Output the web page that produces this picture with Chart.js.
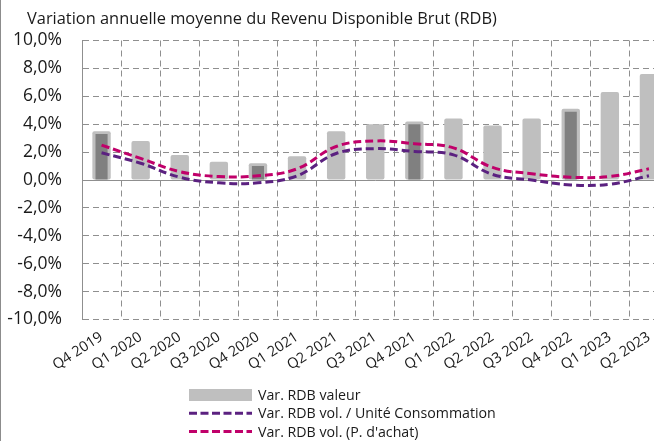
<!DOCTYPE html>
<html lang="fr">
<head>
<meta charset="utf-8">
<title>Variation annuelle moyenne du RDB</title>
<script src="https://cdn.jsdelivr.net/npm/chart.js@4/dist/chart.umd.min.js"></script>
<style>
  html, body { margin: 0; padding: 0; background: #fff; overflow: hidden; }
  #wrap { position: relative; width: 669px; height: 441px; border-left: 1px solid #8c8c8c; }
</style>
</head>
<body>
<div id="wrap"><canvas id="rdbChart"></canvas></div>
<script>
const quarters = ["Q4 2019", "Q1 2020", "Q2 2020", "Q3 2020", "Q4 2020", "Q1 2021", "Q2 2021", "Q3 2021",
                  "Q4 2021", "Q1 2022", "Q2 2022", "Q3 2022", "Q4 2022", "Q1 2023", "Q2 2023"];
// Var. RDB valeur (light bars)
const rdbValeur = [3.5, 2.8, 1.8, 1.3, 1.2, 1.7, 3.5, 4.0, 4.2, 4.4, 3.9, 4.4, 5.1, 6.3, 7.6];
// annual value shown as a darker bar on Q4 only
const rdbValeurAnnuel = [3.3, null, null, null, 1.0, null, null, null, 4.0, null, null, null, 4.9, null, null];
const rdbVolUC = [1.95, 1.2, 0.2, -0.2, -0.2, 0.3, 1.9, 2.25, 2.05, 1.8, 0.4, 0.0, -0.35, -0.3, 0.3];
const rdbVolPA = [2.5, 1.55, 0.6, 0.25, 0.3, 0.8, 2.4, 2.8, 2.6, 2.3, 0.9, 0.45, 0.2, 0.25, 0.8];
const yTickValues = [-10, -8, -6, -4, -2, 0, 2, 4, 6, 8, 10];

const TITLE = "Variation annuelle moyenne du Revenu Disponible Brut (RDB)";
const FONT = "'Open Sans', sans-serif";
const TEXT = "#1a1a1a";
const GRID = "#8f8f8f";

// title at the top left and the legend stacked in one column under the axis labels
const titleAndLegend = {
    id: "titleAndLegend",
    afterDraw(chart, args, opts) {
        const ctx = chart.ctx;
        ctx.save();
        ctx.fillStyle = TEXT;
        ctx.textBaseline = "middle";
        ctx.textAlign = "left";
        ctx.font = `${opts.titleSize}px ${FONT}`;
        ctx.fillText(TITLE, opts.titleX, opts.titleY);

        const items = chart.data.datasets.filter(ds => ds.legendRank !== undefined)
            .sort((a, b) => a.legendRank - b.legendRank);
        ctx.font = `${opts.fontSize}px ${FONT}`;
        items.forEach((ds, i) => {
            const y = opts.top + i * opts.rowHeight;
            if (ds.type === "line") {
                ctx.strokeStyle = ds.borderColor;
                ctx.lineWidth = 3;
                ctx.setLineDash([8, 3.5]);
                ctx.beginPath();
                ctx.moveTo(opts.left, y);
                ctx.lineTo(opts.left + opts.boxWidth, y);
                ctx.stroke();
                ctx.setLineDash([]);
            } else {
                ctx.fillStyle = ds.backgroundColor;
                ctx.fillRect(opts.left, y - 6, opts.boxWidth, 12);
            }
            ctx.fillStyle = TEXT;
            ctx.fillText(ds.label, opts.left + opts.boxWidth + 6, y + 1);
        });
        ctx.restore();
    }
};

const chart = new Chart(document.getElementById("rdbChart").getContext("2d"), {
    data: {
        labels: quarters,
        datasets: [
            {
                type: "line",
                label: "Var. RDB vol. / Unité Consommation",
                data: rdbVolUC,
                borderColor: "#5b2180",
                borderWidth: 3,
                borderDash: [8, 4],
                pointRadius: 0,
                tension: 0.4,
                order: 0,
                legendRank: 1
            },
            {
                type: "line",
                label: "Var. RDB vol. (P. d'achat)",
                data: rdbVolPA,
                borderColor: "#c0006a",
                borderWidth: 3,
                borderDash: [8, 4],
                pointRadius: 0,
                tension: 0.4,
                order: 0,
                legendRank: 2
            },
            {
                type: "bar",
                label: "Var. RDB valeur (annuel)",
                data: rdbValeurAnnuel,
                backgroundColor: "#808080",
                grouped: false,
                categoryPercentage: 1,
                barPercentage: 0.31,
                order: 1
            },
            {
                type: "bar",
                label: "Var. RDB valeur",
                data: rdbValeur,
                backgroundColor: "#bfbfbf",
                borderRadius: 2,
                borderSkipped: false,
                grouped: false,
                categoryPercentage: 1,
                barPercentage: 0.47,
                order: 2,
                legendRank: 0
            }
        ]
    },
    options: {
        responsive: true,
        maintainAspectRatio: false,
        animation: false,
        layout: { padding: { left: 0, right: 1.5, top: 40.5, bottom: 0 } },
        plugins: {
            legend: { display: false },
            tooltip: { enabled: false },
            title: { display: false },
            titleAndLegend: {
                titleX: 26, titleY: 19, titleSize: 16.4,
                left: 188, top: 395, rowHeight: 18.3, boxWidth: 63, fontSize: 14.2
            }
        },
        scales: {
            x: {
                offset: true,
                grid: { offset: true, color: GRID, lineWidth: 1, drawTicks: false },
                border: { display: false, dash: [6, 4] },
                ticks: {
                    color: TEXT,
                    font: { family: FONT, size: 14.5 },
                    minRotation: 33,
                    maxRotation: 33,
                    autoSkip: false,
                    padding: 9
                },
                afterFit: scale => { scale.height = 121.5; }
            },
            y: {
                min: -10,
                max: 10,
                afterBuildTicks: scale => { scale.ticks = yTickValues.map(v => ({ value: v })); },
                grid: { color: GRID, lineWidth: 1, drawTicks: false },
                border: {
                    display: true,
                    color: GRID,
                    width: 1,
                    dash: ctx => (ctx.tick && ctx.tick.value === 0 ? [] : [6, 4])
                },
                ticks: {
                    color: TEXT,
                    font: { family: FONT, size: 17.5 },
                    padding: 20,
                    callback: v => v.toFixed(1).replace(".", ",") + "%"
                },
                afterFit: scale => { scale.width = 81; }
            }
        }
    },
    plugins: [titleAndLegend]
});
</script>
</body>
</html>
